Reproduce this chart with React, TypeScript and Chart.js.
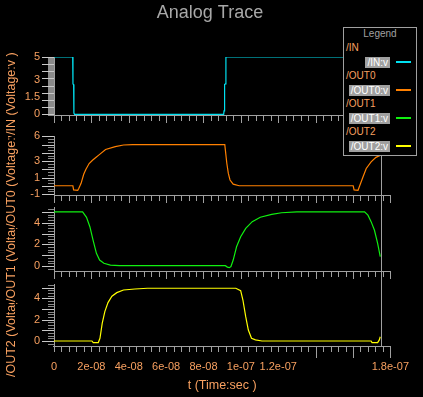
import React, { useEffect, useRef } from 'react';
import { Chart, registerables } from 'chart.js';

Chart.register(...registerables);

// ---- data (time in ns, values in volts) ----
const T_IN = [0, 10.0, 10.15, 10.5, 10.65, 11.0, 90.8, 91.0, 91.3, 91.7, 92.0, 160.0, 160.15, 160.5, 160.65, 161.0, 174.8];
const V_IN = [5, 5, 2.65, 2.6, 0.1, 0, 0, 0.3, 2.6, 2.65, 5, 5, 2.65, 2.6, 0.1, 0, 0];

const T_OUT0 = [0, 10.1, 10.5, 12.7, 13.3, 14.5, 15.9, 17.1, 18.8, 20.6, 22.7, 24.1, 27.6, 32.8, 37.2, 42, 91.4, 91.7, 92.5, 93.3, 94.2, 95.9, 99.1, 160.1, 160.6, 162.7, 163.6, 165.4, 167.1, 169.7, 172.3, 174.8];
const V_OUT0 = [0, 0, -0.5, -0.55, -0.3, 0.3, 1.4, 2.0, 2.7, 3.1, 3.5, 3.75, 4.4, 4.75, 4.95, 5.0, 5.0, 4.35, 2.7, 1.5, 0.7, 0.2, 0, 0, -0.5, -0.55, 0, 1.1, 2.1, 2.9, 3.45, 3.7];

const T_OUT1 = [0, 15.3, 17.4, 19.2, 20.9, 22.7, 24.4, 26.7, 30.2, 35, 91.7, 92.8, 93.8, 94.7, 95.9, 97.7, 99.9, 102.6, 106.1, 110.4, 116.5, 121.8, 130, 166.2, 168.0, 169.7, 171.5, 173.2, 174.6];
const V_OUT1 = [5.0, 5.0, 4.5, 3.63, 2.4, 1.17, 0.55, 0.25, 0.09, 0.03, 0.03, -0.1, -0.15, -0.05, 0.55, 1.78, 2.7, 3.48, 4.1, 4.5, 4.77, 4.92, 5.0, 5.0, 4.7, 4.1, 3.3, 2.1, 0.86];

const T_OUT2 = [0, 20.3, 21.0, 23.7, 24.6, 25.8, 27.2, 28.9, 31.0, 33.6, 37.2, 43.3, 50, 97.3, 99.9, 101.1, 102.6, 104.0, 105.7, 107.8, 111.3, 169.7, 170.2, 173.2, 174.1, 174.6];
const V_OUT2 = [0, 0, -0.15, -0.15, 0.25, 1.65, 2.75, 3.6, 4.2, 4.53, 4.78, 4.87, 4.94, 4.94, 4.72, 3.84, 2.28, 1.03, 0.25, 0.1, 0, 0, -0.15, -0.15, 0.1, 0.4];

const SERIES_NAMES = ['/IN', '/OUT0', '/OUT1', '/OUT2'];
const SERIES_KEYS = ['/IN:v', '/OUT0:v', '/OUT1:v', '/OUT2:v'];
const SERIES_COLORS = ['#00e0f0', '#ff8000', '#10f010', '#ffff00'];
const Y_TITLES = ['/IN (Voltage:v )', '/OUT0 (Voltage:v )', '/OUT1 (Voltage:v )', '/OUT2 (Voltage:v )'];

const Y_TICKS_IN = [0, 1.5, 3, 5];
const Y_TICKS_OUT0 = [-1, 1, 3, 6];
const Y_TICKS_OUT1 = [0, 2, 4];
const Y_TICKS_OUT2 = [0, 2, 4];

const X_LABELS = [0, 2e-8, 4e-8, 6e-8, 8e-8, 1e-7, 1.2e-7, 1.8e-7];
const X_LONG = [1.4e-7, 1.6e-7, 1.8e-7];
const X_MAX = 1.8e-7;
const X_MINOR_NS = 4;
const T_END = 174.8; // ns, end of simulation (vertical marker)

// ---- layout / style constants ----
const Y_MIN = [-0.06, -1.12, -0.46, -0.47];
const Y_MAX = [5.0, 6.04, 5.45, 5.34];
const Y_MINOR = [0.05, 1 / 3, 0.25, 0.25];
const Y_MAJOR = [0.625, 1, 1, 1];
const PANEL_W = [58, 59, 64, 62];
const GAP_W = [21, 12, 13];
const TITLE_START = [20, 32, 31, 31]; // title start below each panel's bottom
const PANEL_IDS = ['y0', 'y1', 'y2', 'y3'];

const AXIS = '#a0a0a0';
const ORANGE = '#f8a060';
const FONT = '"Liberation Sans", Arial, sans-serif';

const T_ALL = [T_IN, T_OUT0, T_OUT1, T_OUT2];
const V_ALL = [V_IN, V_OUT0, V_OUT1, V_OUT2];
const Y_TICKS_ALL = [Y_TICKS_IN, Y_TICKS_OUT0, Y_TICKS_OUT1, Y_TICKS_OUT2];

const fmtX = (v: number) => {
  if (Math.abs(v) < 1e-15) return '0';
  return v.toExponential().replace(/e-(\d)$/, 'e-0$1');
};

const decorPlugin = {
  id: 'decor',
  beforeDatasetsDraw(chart: any) {
    const { ctx, chartArea } = chart;
    const xs = chart.scales.x;
    ctx.save();
    ctx.fillStyle = AXIS;
    const xe = Math.round(xs.getPixelForValue(T_END / 1e9));
    ctx.fillRect(xe, chartArea.top, 1, chartArea.bottom - chartArea.top);
    ctx.restore();
  },
  afterDraw(chart: any) {
    const { ctx } = chart;
    const xs = chart.scales.x;
    ctx.save();
    const nX = Math.round((X_MAX * 1e9) / X_MINOR_NS);
    PANEL_IDS.forEach((id, i) => {
      const s = chart.scales[id];
      const yb = Math.round(s.bottom);
      const isLast = i === PANEL_IDS.length - 1;
      // per-panel time axis
      ctx.fillStyle = AXIS;
      const xl = Math.round(xs.left);
      const xr = Math.round(xs.right);
      ctx.fillRect(xl, yb, xr - xl + 1, 1);
      for (let k = 0; k <= nX; k++) {
        const v = (k * X_MINOR_NS) / 1e9;
        const px = Math.round(xs.getPixelForValue(v));
        let len = 6;
        if (isLast) {
          if (X_LONG.some((l) => Math.abs(l - v) < 1e-13)) len = 12;
        } else if (k % 5 === 0) len = 8;
        ctx.fillRect(px, yb, 1, len);
      }
      // y ticks
      const xr0 = Math.round(s.right);
      const mn = Y_MINOR[i];
      ctx.fillStyle = '#8a8a8a';
      for (let k = Math.ceil(Y_MIN[i] / mn - 1e-9); k * mn <= Y_MAX[i] + 1e-9; k++) {
        const py = Math.round(s.getPixelForValue(k * mn));
        ctx.fillRect(xr0 - 6, py, 6, 1);
      }
      const mj = Y_MAJOR[i];
      ctx.fillStyle = '#c8c8c8';
      for (let k = Math.ceil(Y_MIN[i] / mj - 1e-9); k * mj <= Y_MAX[i] + 1e-9; k++) {
        const py = Math.round(s.getPixelForValue(k * mj));
        ctx.fillRect(xr0 - 12, py, 12, 1);
      }
    });
    // rotated axis titles (each with an opaque backing, upper ones drawn last)
    ctx.font = '12.5px "Liberation Sans"';
    ctx.textAlign = 'left';
    ctx.textBaseline = 'middle';
    for (let i = PANEL_IDS.length - 1; i >= 0; i--) {
      const s = chart.scales[PANEL_IDS[i]];
      const y0 = s.bottom + TITLE_START[i];
      const w = ctx.measureText(Y_TITLES[i]).width;
      ctx.save();
      ctx.translate(11, y0);
      ctx.rotate(-Math.PI / 2);
      ctx.fillStyle = '#000';
      ctx.fillRect(-1, -7, w + 2, 14);
      ctx.fillStyle = ORANGE;
      ctx.fillText(Y_TITLES[i], 0, 1);
      ctx.restore();
    }
    ctx.restore();
  },
};

export default function App() {
  const ref = useRef<HTMLCanvasElement | null>(null);

  useEffect(() => {
    if (!ref.current) return;
    document.body.style.margin = '0';
    document.body.style.background = '#000';
    Chart.defaults.font.family = FONT;

    const scales: any = {
      x: {
        type: 'linear',
        position: 'bottom',
        min: 0,
        max: X_MAX,
        afterFit: (s: any) => {
          s.height = 51;
        },
        afterBuildTicks: (s: any) => {
          const n = Math.round((X_MAX * 1e9) / X_MINOR_NS);
          const arr = [];
          for (let k = 0; k <= n; k++) arr.push({ value: (k * X_MINOR_NS) / 1e9 });
          s.ticks = arr;
        },
        grid: { display: false, drawTicks: false },
        border: { display: true, color: AXIS, width: 1 },
        ticks: {
          autoSkip: false,
          maxRotation: 0,
          minRotation: 0,
          color: ORANGE,
          font: { family: FONT, size: 11 },
          padding: 14,
          callback: (v: number) => (X_LABELS.some((l) => Math.abs(l - v) < 1e-13) ? fmtX(v) : ''),
        },
        title: {
          display: true,
          text: 't (Time:sec )',
          color: ORANGE,
          font: { family: FONT, size: 12.5 },
          padding: { top: 0, bottom: 3.5 },
        },
      },
    };

    PANEL_IDS.forEach((id, i) => {
      scales[id] = {
        type: 'linear',
        position: 'left',
        stack: 'v',
        stackWeight: PANEL_W[i],
        weight: 20 - 2 * i,
        min: Y_MIN[i],
        max: Y_MAX[i],
        afterFit: (s: any) => {
          s.width = 32;
        },
        afterBuildTicks: (s: any) => {
          s.ticks = Y_TICKS_ALL[i].map((v) => ({ value: v }));
        },
        grid: { display: false, drawTicks: false },
        border: { display: true, color: AXIS, width: 1 },
        ticks: { autoSkip: false, color: ORANGE, font: { family: FONT, size: 11 }, padding: 14 },
      };
      if (i < GAP_W.length) {
        scales['gap' + i] = {
          type: 'linear',
          position: 'left',
          stack: 'v',
          stackWeight: GAP_W[i],
          weight: 19 - 2 * i,
          min: 0,
          max: 1,
          afterFit: (s: any) => {
            s.width = 32;
          },
          grid: { display: false, drawTicks: false },
          border: { display: false },
          ticks: { display: false },
        };
      }
    });

    const datasets = SERIES_NAMES.map((name, i) => ({
      label: name,
      data: T_ALL[i].map((t, j) => ({ x: t / 1e9, y: V_ALL[i][j] })),
      xAxisID: 'x',
      yAxisID: PANEL_IDS[i],
      borderColor: SERIES_COLORS[i],
      backgroundColor: SERIES_COLORS[i],
      borderWidth: 1.2,
      pointRadius: 0,
      tension: 0,
      fill: false,
    }));

    const chart = new Chart(ref.current, {
      type: 'line',
      data: { datasets },
      options: {
        responsive: false,
        animation: false,
        devicePixelRatio: 1,
        events: [],
        layout: { padding: { left: 22, right: 25, top: 0, bottom: 0 } },
        plugins: {
          legend: { display: false },
          tooltip: { enabled: false },
          title: {
            display: true,
            text: 'Analog Trace',
            color: '#a8a8a8',
            font: { family: FONT, size: 18, weight: 'normal' },
            padding: { top: 2.2, bottom: 33.2 },
          },
        },
        scales,
      },
      plugins: [decorPlugin],
    } as any);

    return () => chart.destroy();
  }, []);

  return (
    <div style={{ position: 'fixed', left: 0, top: 0, width: 423, height: 397, background: '#000', overflow: 'hidden' }}>
      <canvas ref={ref} width={423} height={397} style={{ position: 'absolute', left: 0, top: 0 }} />
      <div
        style={{
          position: 'absolute',
          left: 343,
          top: 27,
          width: 74,
          height: 129,
          boxSizing: 'border-box',
          border: '1px solid ' + AXIS,
          background: '#000',
          fontFamily: FONT,
          fontSize: 10,
        }}
      >
        <div style={{ position: 'absolute', left: 0, right: 0, top: 0, textAlign: 'center', color: AXIS, lineHeight: '12px' }}>
          Legend
        </div>
        {SERIES_NAMES.map((name, i) => (
          <React.Fragment key={name}>
            <div style={{ position: 'absolute', left: 2, top: 14 + 28 * i, lineHeight: '12px', color: ORANGE }}>{name}</div>
            <div
              style={{
                position: 'absolute',
                right: 26,
                top: 29 + 28 * i,
                height: 11,
                lineHeight: '11px',
                padding: '0 2px',
                background: AXIS,
                color: '#ffffff',
                whiteSpace: 'nowrap',
              }}
            >
              {SERIES_KEYS[i]}
            </div>
            <div style={{ position: 'absolute', left: 52, top: 33 + 28 * i, width: 15, height: 2, background: SERIES_COLORS[i] }} />
          </React.Fragment>
        ))}
      </div>
    </div>
  );
}
